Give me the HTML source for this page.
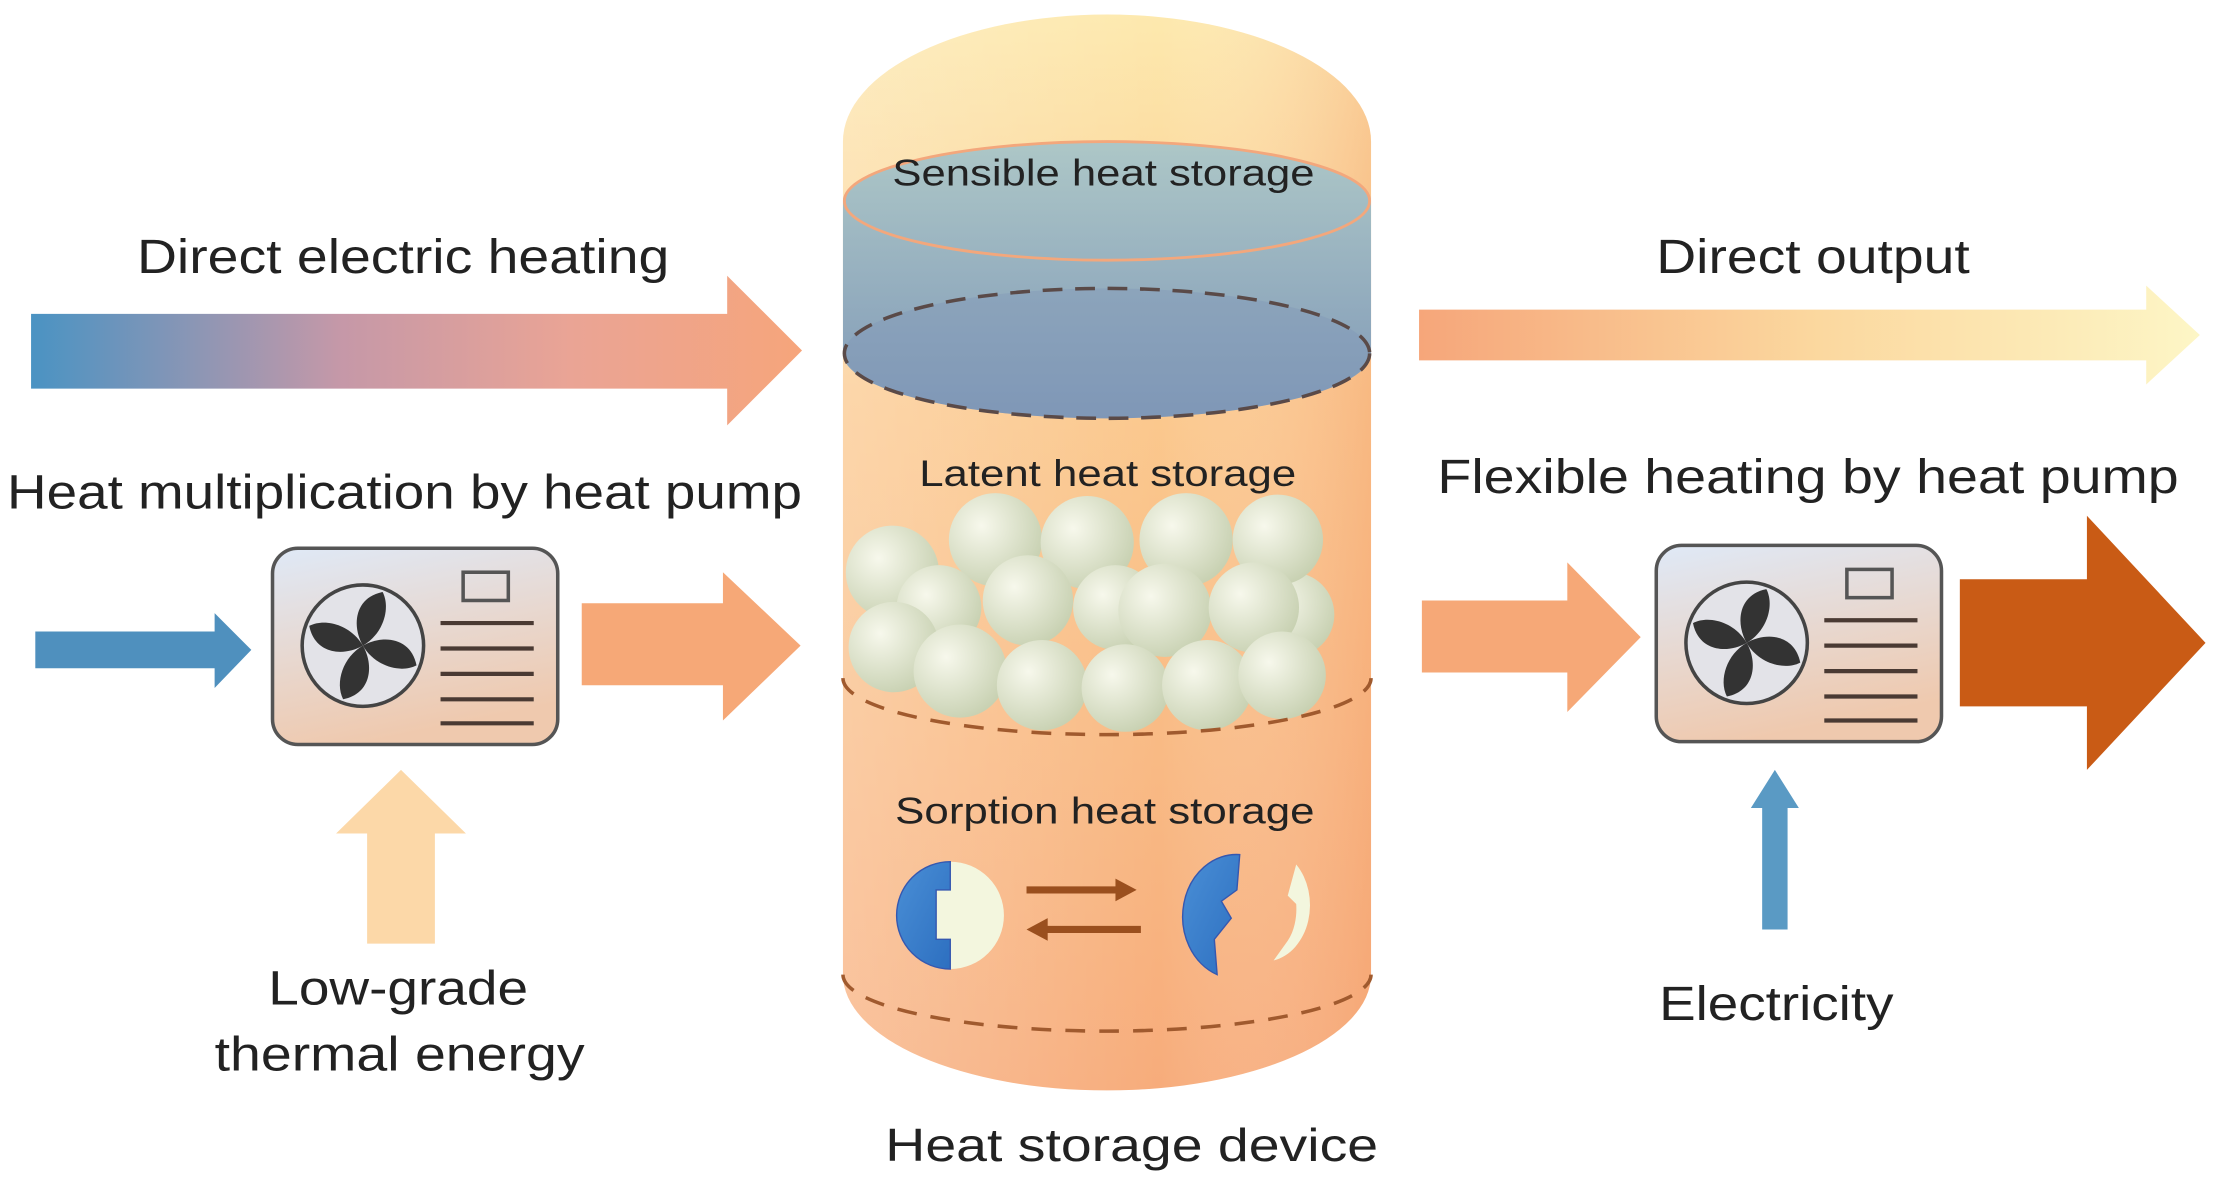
<!DOCTYPE html>
<html><head><meta charset="utf-8"><style>
html,body{margin:0;padding:0;background:#fff;}
svg{display:block;}
text{font-family:"Liberation Sans",sans-serif;fill:#222;}
</style></head><body>
<svg width="2214" height="1184" viewBox="0 0 1568 838" xmlns="http://www.w3.org/2000/svg">
<defs>
<linearGradient id="cylV" x1="0" y1="0" x2="0" y2="1">
<stop offset="0" stop-color="#fde9ae"/><stop offset="0.35" stop-color="#fbc98e"/><stop offset="1" stop-color="#f7ac7b"/></linearGradient>
<linearGradient id="cylH" x1="0" y1="0" x2="1" y2="0">
<stop offset="0" stop-color="#fff" stop-opacity="0.25"/><stop offset="0.6" stop-color="#fff" stop-opacity="0"/><stop offset="1" stop-color="#f39a6a" stop-opacity="0.35"/></linearGradient>
<linearGradient id="sens" x1="0" y1="0" x2="0" y2="1">
<stop offset="0" stop-color="#adc7c7"/><stop offset="1" stop-color="#7f98b7"/></linearGradient>
<linearGradient id="a1" x1="0" y1="0" x2="1" y2="0">
<stop offset="0" stop-color="#4a93c3"/><stop offset="0.4" stop-color="#c598a8"/><stop offset="0.7" stop-color="#eaa495"/><stop offset="1" stop-color="#f6a57b"/></linearGradient>
<linearGradient id="a2" x1="0" y1="0" x2="1" y2="0">
<stop offset="0" stop-color="#f6a67a"/><stop offset="0.5" stop-color="#fbd79e"/><stop offset="1" stop-color="#fdf6c6"/></linearGradient>
<linearGradient id="box" x1="0" y1="0" x2="0.3" y2="1">
<stop offset="0" stop-color="#dfe9f7"/><stop offset="1" stop-color="#efc9ae"/></linearGradient>
<radialGradient id="ball" cx="0.35" cy="0.35" r="0.7">
<stop offset="0" stop-color="#f7f8ec"/><stop offset="1" stop-color="#c8d1b2"/></radialGradient>
<linearGradient id="blue" x1="0" y1="0" x2="1" y2="1">
<stop offset="0" stop-color="#4a8fd6"/><stop offset="1" stop-color="#2d6fc0"/></linearGradient>
<g id="fan">
<circle r="43" fill="#e3e3e8" stroke="#444" stroke-width="2.5"/>
<g fill="#333">
<path d="M0,0 C-8,-14 -6,-34 14,-38 C20,-26 14,-8 0,0Z"/>
<path d="M0,0 C-8,-14 -6,-34 14,-38 C20,-26 14,-8 0,0Z" transform="rotate(90)"/>
<path d="M0,0 C-8,-14 -6,-34 14,-38 C20,-26 14,-8 0,0Z" transform="rotate(180)"/>
<path d="M0,0 C-8,-14 -6,-34 14,-38 C20,-26 14,-8 0,0Z" transform="rotate(270)"/>
</g></g>
<g id="pump">
<rect x="0" y="0" width="202" height="139" rx="18" fill="url(#box)" stroke="#555" stroke-width="2.5"/>
<use href="#fan" x="64" y="69"/>
<rect x="135" y="17" width="32" height="20" fill="none" stroke="#555" stroke-width="2.5"/>
<g stroke="#4a3a33" stroke-width="3">
<line x1="119" y1="53" x2="185" y2="53"/><line x1="119" y1="71" x2="185" y2="71"/>
<line x1="119" y1="89" x2="185" y2="89"/><line x1="119" y1="107" x2="185" y2="107"/>
<line x1="119" y1="124" x2="185" y2="124"/>
</g></g>
</defs>

<path d="M597,100 A187,90 0 0 1 971,100 L971,690 A187,82 0 0 1 597,690 Z" fill="url(#cylV)"/>
<path d="M597,100 A187,90 0 0 1 971,100 L971,690 A187,82 0 0 1 597,690 Z" fill="url(#cylH)"/>
<path d="M597,142 A187,42 0 0 1 971,142 L971,250 A187,46 0 0 1 597,250 Z" fill="url(#sens)"/>
<ellipse cx="784" cy="142" rx="186" ry="42" fill="none" stroke="#f3a77c" stroke-width="2"/>
<ellipse cx="784" cy="250" rx="186" ry="46" fill="#7f96b6" fill-opacity="0.4" stroke="#5a4a48" stroke-width="2.5" stroke-dasharray="14,9"/>
<text x="632" y="131" font-size="26" textLength="299" lengthAdjust="spacingAndGlyphs">Sensible heat storage</text>
<text x="651" y="344" font-size="26" textLength="267" lengthAdjust="spacingAndGlyphs">Latent heat storage</text>
<g fill="url(#ball)">
<circle cx="915" cy="435" r="30"/>
<circle cx="632" cy="405" r="33"/><circle cx="705" cy="382" r="33"/><circle cx="770" cy="384" r="33"/>
<circle cx="840" cy="382" r="33"/><circle cx="905" cy="382" r="32"/>
<circle cx="665" cy="430" r="30"/><circle cx="728" cy="425" r="32"/><circle cx="790" cy="430" r="30"/>
<circle cx="825" cy="432" r="33"/><circle cx="888" cy="430" r="32"/>
<circle cx="633" cy="458" r="32"/><circle cx="680" cy="475" r="33"/><circle cx="738" cy="485" r="32"/>
<circle cx="797" cy="487" r="31"/><circle cx="855" cy="485" r="32"/><circle cx="908" cy="478" r="31"/>
</g>
<path d="M597,480 A187,40 0 0 0 971,480" fill="none" stroke="#a05a2e" stroke-width="2.5" stroke-dasharray="14,10"/>
<text x="634" y="583" font-size="26" textLength="297" lengthAdjust="spacingAndGlyphs">Sorption heat storage</text>
<circle cx="673" cy="648" r="38" fill="#f3f6de"/>
<path d="M673,610 L673,630 L663,630 L663,665 L673,665 L673,686 A38,38 0 0 1 673,610Z" fill="url(#blue)" stroke="#3558b0" stroke-width="1"/>
<path d="M727,630 L795,630" stroke="#9a4f1e" stroke-width="5"/><path d="M805,630 L790,622 L790,638Z" fill="#9a4f1e"/>
<path d="M740,658 L808,658" stroke="#9a4f1e" stroke-width="5"/><path d="M727,658 L742,650 L742,666Z" fill="#9a4f1e"/>
<path d="M878,605 L876,630 L865,638 L872,650 L860,665 L862,690 A38,44 0 0 1 878,605Z" fill="url(#blue)" stroke="#3558b0" stroke-width="1"/>
<path d="M918,612 A32,40 0 0 1 902,680 L912,666 A18,30 0 0 0 918,640 L912,634Z" fill="#f3f6de"/>
<path d="M597,690 A187,40 0 0 0 971,690" fill="none" stroke="#a05a2e" stroke-width="2.5" stroke-dasharray="14,10"/>
<text x="627" y="822" font-size="33" textLength="349" lengthAdjust="spacingAndGlyphs">Heat storage device</text>

<text x="97" y="193" font-size="34" textLength="377" lengthAdjust="spacingAndGlyphs">Direct electric heating</text>
<path d="M22,222 L515,222 L515,195 L568,248 L515,301 L515,275 L22,275Z" fill="url(#a1)"/>
<text x="5" y="360" font-size="34" textLength="563" lengthAdjust="spacingAndGlyphs">Heat multiplication by heat pump</text>
<path d="M25,447 L152,447 L152,434 L178,460 L152,487 L152,473 L25,473Z" fill="#4f90be"/>
<use href="#pump" x="193" y="388"/>
<path d="M412,427 L512,427 L512,405 L567,457 L512,510 L512,485 L412,485Z" fill="#f6a877"/>
<path d="M260,668 L260,590 L238,590 L284,545 L330,590 L308,590 L308,668Z" fill="#fcd8a8"/>
<text x="190" y="711" font-size="34" textLength="184" lengthAdjust="spacingAndGlyphs">Low-grade</text>
<text x="152" y="758" font-size="34" textLength="262" lengthAdjust="spacingAndGlyphs">thermal energy</text>

<text x="1173" y="193" font-size="34" textLength="222" lengthAdjust="spacingAndGlyphs">Direct output</text>
<path d="M1005,219 L1520,219 L1520,202 L1558,237 L1520,272 L1520,255 L1005,255Z" fill="url(#a2)"/>
<text x="1018" y="349" font-size="34" textLength="525" lengthAdjust="spacingAndGlyphs">Flexible heating by heat pump</text>
<path d="M1007,425 L1110,425 L1110,398 L1162,451 L1110,504 L1110,476 L1007,476Z" fill="#f6a877"/>
<use href="#pump" x="1173" y="386"/>
<path d="M1388,410 L1478,410 L1478,365 L1562,455 L1478,545 L1478,500 L1388,500Z" fill="#c95b15"/>
<path d="M1248,658 L1248,572 L1240,572 L1257,545 L1274,572 L1266,572 L1266,658Z" fill="#5a9ac4"/>
<text x="1175" y="722" font-size="34" textLength="166" lengthAdjust="spacingAndGlyphs">Electricity</text>
</svg>
</body></html>
